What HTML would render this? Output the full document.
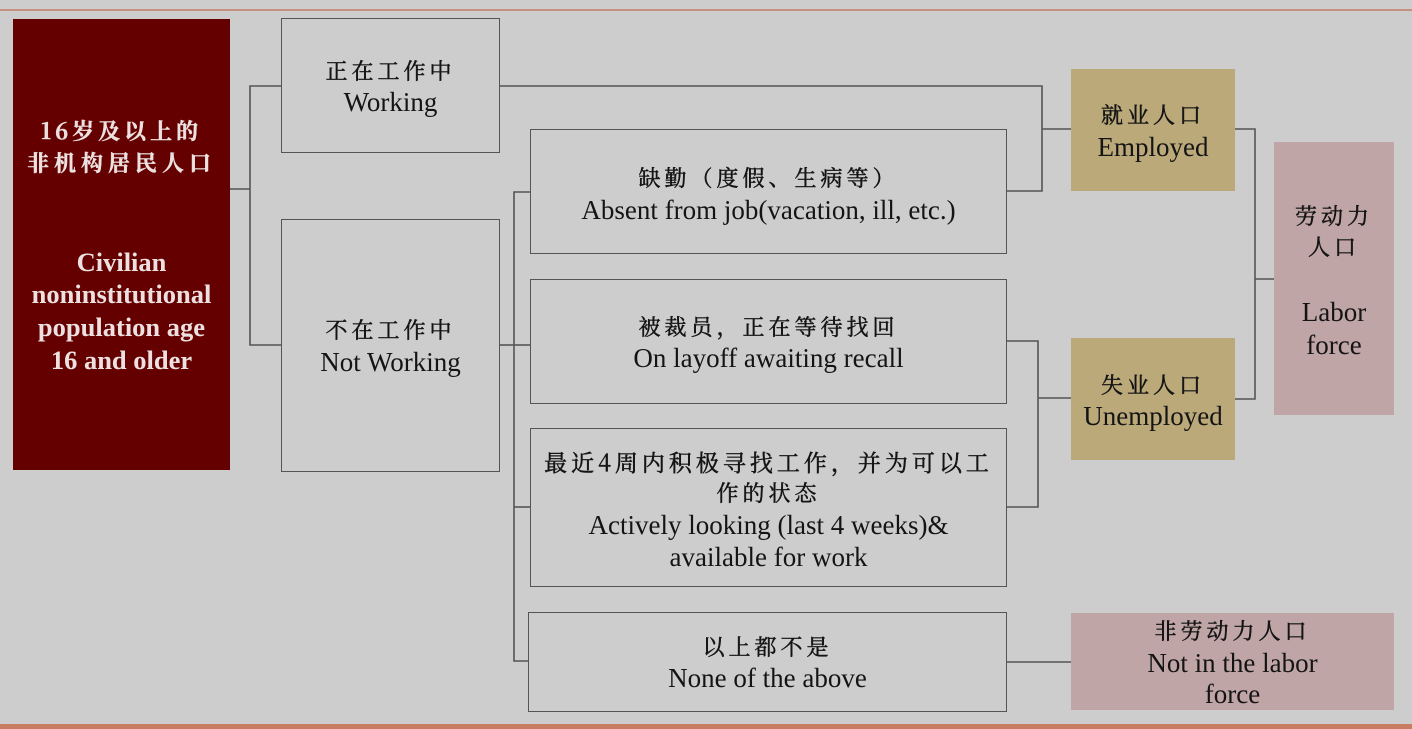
<!DOCTYPE html>
<html>
<head>
<meta charset="utf-8">
<style>
  html,body{margin:0;padding:0;}
  body{width:1412px;height:729px;background:#cdcdcd;position:relative;overflow:hidden;
       font-family:"Liberation Serif","Noto Serif CJK SC",serif;color:#141414;}
  .box{position:absolute;box-sizing:border-box;}
  .g{border:1.6px solid #555;background:#cdcdcd;}
  .t{position:absolute;height:32px;line-height:32px;text-align:center;white-space:nowrap;font-size:27px;}
  .c{font-family:"Noto Serif CJK SC","Noto Sans CJK SC",serif;font-size:22px;letter-spacing:4px;-webkit-text-stroke:0.5px #141414;}
  .w{color:#ece0e0;font-weight:bold;}
  .c.w{-webkit-text-stroke:0.4px #ece0e0;}
  svg{position:absolute;left:0;top:0;}
</style>
</head>
<body>
<!-- top & bottom decorative lines -->
<div class="box" style="left:0;top:9px;width:1412px;height:2px;background:#c4907f;"></div>
<div class="box" style="left:0;top:724px;width:1412px;height:5px;background:#c87c62;"></div>

<!-- boxes -->
<div class="box" style="left:13px;top:19px;width:217px;height:451px;background:#650000;"></div>
<div class="box g" style="left:281px;top:18px;width:219px;height:135px;"></div>
<div class="box g" style="left:281px;top:219px;width:219px;height:253px;"></div>
<div class="box g" style="left:530px;top:129px;width:477px;height:125px;"></div>
<div class="box g" style="left:530px;top:279px;width:477px;height:125px;"></div>
<div class="box g" style="left:530px;top:428px;width:477px;height:159px;"></div>
<div class="box g" style="left:528px;top:612px;width:479px;height:100px;"></div>
<div class="box" style="left:1071px;top:69px;width:164px;height:122px;background:#bba97a;"></div>
<div class="box" style="left:1071px;top:338px;width:164px;height:122px;background:#bba97a;"></div>
<div class="box" style="left:1274px;top:142px;width:120px;height:273px;background:#c0a5a7;"></div>
<div class="box" style="left:1071px;top:613px;width:323px;height:97px;background:#c0a5a7;"></div>

<!-- connectors -->
<svg width="1412" height="729" viewBox="0 0 1412 729">
  <g fill="none" stroke="#555" stroke-width="1.6">
    <polyline points="230,189 250,189"/>
    <polyline points="281,86 250,86 250,345 281,345"/>
    <polyline points="500,86 1042,86 1042,191 1007,191"/>
    <polyline points="1042,129 1071,129"/>
    <polyline points="500,345 514,345"/>
    <polyline points="530,192 514,192 514,661 528,661"/>
    <polyline points="514,345 530,345"/>
    <polyline points="514,507 530,507"/>
    <polyline points="1007,341 1038,341 1038,507 1007,507"/>
    <polyline points="1038,398 1071,398"/>
    <polyline points="1007,662 1071,662"/>
    <polyline points="1235,129 1255,129 1255,399 1235,399"/>
    <polyline points="1255,279 1274,279"/>
  </g>
</svg>

<!-- red box text -->
<div class="t c w" style="left:13px;width:217px;top:115px;">16岁及以上的</div>
<div class="t c w" style="left:13px;width:217px;top:147px;letter-spacing:5px;">非机构居民人口</div>
<div class="t w" style="left:13px;width:217px;top:246px;font-size:26.5px;">Civilian</div>
<div class="t w" style="left:13px;width:217px;top:278px;font-size:26.5px;">noninstitutional</div>
<div class="t w" style="left:13px;width:217px;top:311px;font-size:26.5px;">population age</div>
<div class="t w" style="left:13px;width:217px;top:344px;font-size:26.5px;">16 and older</div>

<!-- working -->
<div class="t c" style="left:281px;width:219px;top:55px;">正在工作中</div>
<div class="t" style="left:281px;width:219px;top:86px;">Working</div>
<!-- not working -->
<div class="t c" style="left:281px;width:219px;top:314px;">不在工作中</div>
<div class="t" style="left:281px;width:219px;top:346px;">Not Working</div>

<!-- absent -->
<div class="t c" style="left:530px;width:477px;top:162px;">缺勤（度假、生病等）</div>
<div class="t" style="left:530px;width:477px;top:194px;">Absent from job(vacation, ill, etc.)</div>
<!-- layoff -->
<div class="t c" style="left:530px;width:477px;top:311px;">被裁员，正在等待找回</div>
<div class="t" style="left:530px;width:477px;top:342px;">On layoff awaiting recall</div>
<!-- actively -->
<div class="t c" style="left:530px;width:477px;top:446px;font-size:23px;letter-spacing:4px;">最近4周内积极寻找工作，并为可以工</div>
<div class="t c" style="left:530px;width:477px;top:477px;">作的状态</div>
<div class="t" style="left:530px;width:477px;top:509px;">Actively looking (last 4 weeks)&amp;</div>
<div class="t" style="left:530px;width:477px;top:541px;">available for work</div>
<!-- none -->
<div class="t c" style="left:528px;width:479px;top:631px;">以上都不是</div>
<div class="t" style="left:528px;width:479px;top:662px;">None of the above</div>

<!-- employed -->
<div class="t c" style="left:1071px;width:164px;top:99px;">就业人口</div>
<div class="t" style="left:1071px;width:164px;top:131px;">Employed</div>
<!-- unemployed -->
<div class="t c" style="left:1071px;width:164px;top:369px;">失业人口</div>
<div class="t" style="left:1071px;width:164px;top:400px;">Unemployed</div>
<!-- labor force -->
<div class="t c" style="left:1274px;width:120px;top:200px;">劳动力</div>
<div class="t c" style="left:1274px;width:120px;top:231px;">人口</div>
<div class="t" style="left:1274px;width:120px;top:296px;">Labor</div>
<div class="t" style="left:1274px;width:120px;top:329px;">force</div>
<!-- not in labor force -->
<div class="t c" style="left:1071px;width:323px;top:615px;">非劳动力人口</div>
<div class="t" style="left:1071px;width:323px;top:647px;">Not in the labor</div>
<div class="t" style="left:1071px;width:323px;top:678px;">force</div>
</body>
</html>
